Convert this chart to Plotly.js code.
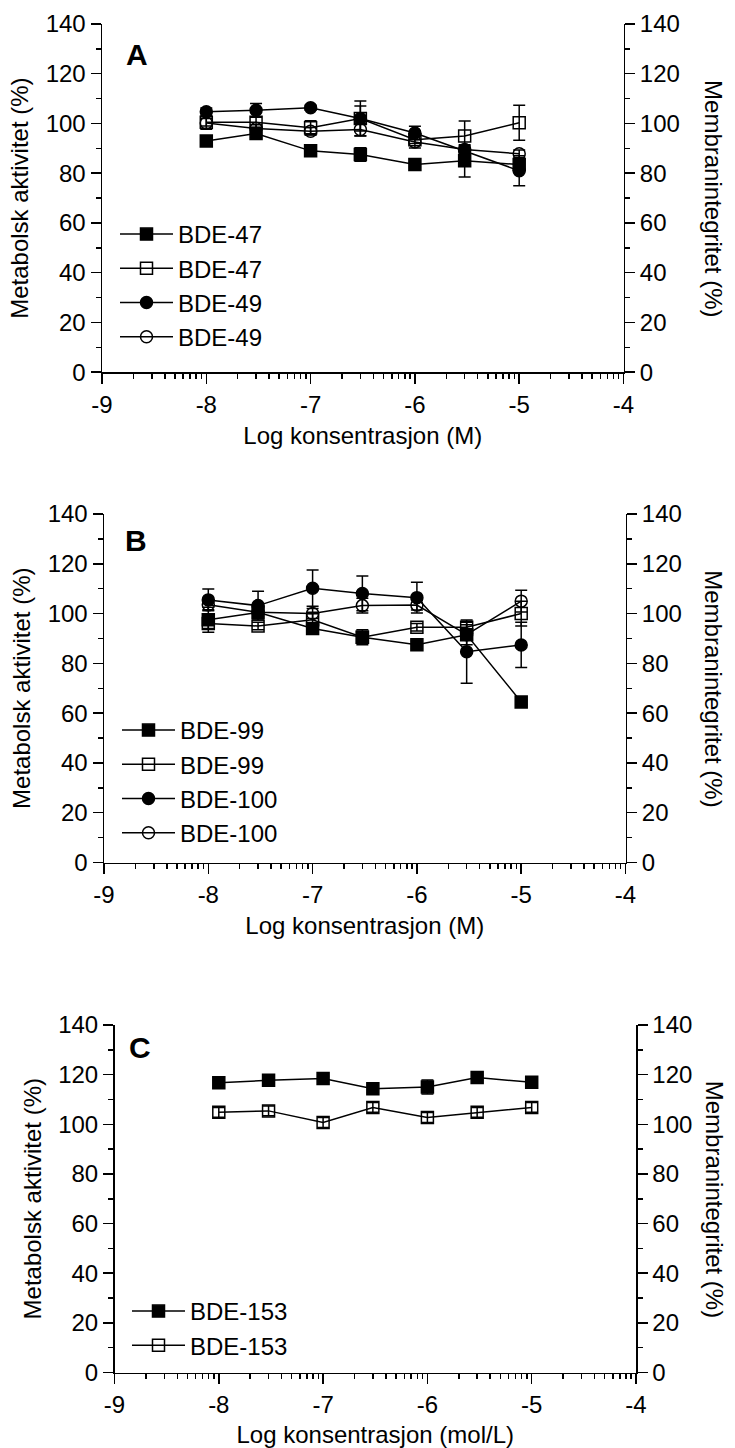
<!DOCTYPE html>
<html><head><meta charset="utf-8">
<script src="https://cdn.plot.ly/plotly-3.0.1.min.js"></script>
<style>html,body{margin:0;padding:0;background:#fff}#chart{width:735px;height:1448px}</style>
</head><body><div id="chart"></div>
<script>
// Concentrations (mol/L); x axis shows log10 of these
const concentrations = [1e-8, 3e-8, 1e-7, 3e-7, 1e-6, 3e-6, 1e-5];
const xTickVals = [-9, -8, -7, -6, -5, -4];
const xTickText = ['-9', '-8', '-7', '-6', '-5', '-4'];

// Panel A
const aLabels = ['BDE-47', 'BDE-47', 'BDE-49', 'BDE-49'];
const a47Met = [93, 96, 89, 87.5, 83.5, 85, 83.5];
const a47MetErr = [1, 1.5, 1, 2.7, 1, 6.5, 2];
const a47Mem = [100.5, 100.5, 98.3, 102, 93.5, 95, 100.3];
const a47MemErr = [1.5, 2, 2.8, 5, 1.5, 6, 7];
const a49Met = [104.7, 105.3, 106.3, 102, 96.2, 89, 81];
const a49MetErr = [1.5, 2.7, 1, 7, 2.7, 1.5, 6];
const a49Mem = [100.2, 98, 96.9, 97.6, 92.6, 89.5, 87.8];
const a49MemErr = [2.5, 1.5, 1.5, 2.5, 2.5, 1.5, 1.5];

// Panel B
const bLabels = ['BDE-99', 'BDE-99', 'BDE-100', 'BDE-100'];
const b99Met = [97.5, 100.5, 94, 90.5, 87.5, 91.5, 64.5];
const b99MetErr = [5, 1.5, 2, 3, 1.5, 4, 1];
const b99Mem = [96, 95, 97.5, 90.5, 94.5, 94.5, 100];
const b99MemErr = [2, 1.5, 3, 1.5, 1.5, 2, 5];
const b100Met = [105.5, 103.2, 110.2, 108.1, 106.4, 84.7, 87.4];
const b100MetErr = [4.4, 5.8, 7.3, 7, 6.2, 12.7, 9.1];
const b100Mem = [103.5, 100.5, 100, 103.2, 103.4, 91.5, 105];
const b100MemErr = [2, 1.5, 2, 3, 2, 1.5, 4.4];

// Panel C
const cLabels = ['BDE-153', 'BDE-153'];
const c153Met = [116.7, 117.7, 118.4, 114.3, 115, 118.8, 116.9];
const c153MetErr = [1, 1, 1, 1.5, 2.8, 1, 1];
const c153Mem = [104.8, 105.4, 100.7, 106.8, 102.7, 104.8, 106.8];
const c153MemErr = [2, 2, 2, 2, 2, 2, 2];

const leftTitle = 'Metabolsk aktivitet (%)';
const rightTitle = 'Membranintegritet (%)';
const xTitles = ['Log konsentrasjon (M)', 'Log konsentrasjon (M)', 'Log konsentrasjon (mol/L)'];
const panelLetters = ['A', 'B', 'C'];

// ---------- drawing ----------
const W = 735, H = 1448;
const FONT = 'Arial, "Liberation Sans", sans-serif';
const xLog = concentrations.map(c => Math.log10(c));
const minorX = [];
for (let d = -9; d < -4; d++) for (let k = 2; k <= 9; k++) minorX.push(d + Math.log10(k));

// pixel boxes of the three plot areas [left, right, top, bottom]
const boxes = [[102, 623.5, 24, 372.2], [104, 625.5, 514, 862.5], [114.5, 636, 1025, 1372.5]];
const legendPos = [[115, 212], [117, 708], [127, 1289]];
const letterPos = [[137, 55], [136, 541], [140, 1047]];

function px(x) { return x / W; }
function py(y) { return 1 - y / H; }

const symbols = ['square', 'square-open', 'circle', 'circle-open'];
const panels = [
  {labels: aLabels, ys: [a47Met, a47Mem, a49Met, a49Mem], errs: [a47MetErr, a47MemErr, a49MetErr, a49MemErr]},
  {labels: bLabels, ys: [b99Met, b99Mem, b100Met, b100Mem], errs: [b99MetErr, b99MemErr, b100MetErr, b100MemErr]},
  {labels: cLabels, ys: [c153Met, c153Mem], errs: [c153MetErr, c153MemErr]}
];

const traces = [];
const layout = {
  width: W, height: H,
  margin: {l: 0, r: 0, t: 0, b: 0},
  paper_bgcolor: '#fff', plot_bgcolor: 'rgba(0,0,0,0)',
  font: {family: FONT, color: '#000', size: 24},
  showlegend: true,
  annotations: []
};

panels.forEach((p, i) => {
  const xa = i === 0 ? 'x' : 'x' + (i + 1);
  const yl = i === 0 ? 'y' : 'y' + (2 * i + 1);
  const yr = 'y' + (2 * i + 2);
  const lg = i === 0 ? 'legend' : 'legend' + (i + 1);
  p.ys.forEach((yv, j) => {
    traces.push({
      type: 'scatter', mode: 'lines+markers', x: xLog, y: yv,
      xaxis: xa, yaxis: yl, name: p.labels[j], legend: lg,
      line: {color: '#000', width: 1.5},
      marker: {symbol: symbols[j], size: 12, color: '#000', line: {color: '#000', width: 1.5}},
      error_y: {type: 'data', array: p.errs[j], visible: true, color: '#000', thickness: 1.5, width: 6}
    });
  });
  // empty trace so that the right-hand axis is drawn
  traces.push({type: 'scatter', mode: 'lines', x: [null], y: [null], xaxis: xa, yaxis: yr,
    showlegend: false, hoverinfo: 'skip'});
  const b = boxes[i];
  const xd = [px(b[0]), px(b[1])];
  const yd = [py(b[3]), py(b[2])];
  const xKey = i === 0 ? 'xaxis' : 'xaxis' + (i + 1);
  const ylKey = i === 0 ? 'yaxis' : 'yaxis' + (2 * i + 1);
  const yrKey = 'yaxis' + (2 * i + 2);
  layout[xKey] = {
    domain: xd, anchor: yl, range: [-9, -4], tickmode: 'array', tickvals: xTickVals, ticktext: xTickText,
    ticks: 'outside', ticklen: 10, tickwidth: 1.5, tickcolor: '#000',
    showline: true, linewidth: 1.5, linecolor: '#000', showgrid: false, zeroline: false,
    tickfont: {size: 24, family: FONT}, fixedrange: true,
    minor: {tickmode: 'array', tickvals: minorX, ticks: 'outside', ticklen: 5, tickwidth: 1.5, tickcolor: '#000', showgrid: false},
    title: {text: xTitles[i], font: {size: 24, family: FONT}, standoff: 10}
  };
  const yCommon = {
    range: [0, 140], tickmode: 'linear', tick0: 0, dtick: 20,
    ticks: 'outside', ticklen: 10, tickwidth: 1.5, tickcolor: '#000',
    showline: true, linewidth: 1.5, linecolor: '#000', showgrid: false, zeroline: false,
    tickfont: {size: 24, family: FONT}, fixedrange: true,
    minor: {tickmode: 'linear', tick0: 0, dtick: 10, ticks: 'outside', ticklen: 5, tickwidth: 1.5, tickcolor: '#000', showgrid: false}
  };
  layout[ylKey] = Object.assign({}, yCommon, {domain: yd, anchor: xa, side: 'left',
    title: {text: leftTitle, font: {size: 24, family: FONT}, standoff: 10}});
  layout[yrKey] = Object.assign({}, yCommon, {domain: yd, anchor: xa, side: 'right', overlaying: yl});
  layout[lg] = {
    x: px(legendPos[i][0]), y: py(legendPos[i][1]), xanchor: 'left', yanchor: 'top',
    bgcolor: 'rgba(0,0,0,0)', borderwidth: 0, font: {size: 24, family: FONT},
    itemwidth: 53, tracegroupgap: 0
  };
  layout.annotations.push({
    xref: 'paper', yref: 'paper', x: px(714), y: (yd[0] + yd[1]) / 2,
    text: rightTitle, textangle: 90, showarrow: false, font: {size: 24, family: FONT},
    xanchor: 'center', yanchor: 'middle'
  });
  layout.annotations.push({
    xref: 'paper', yref: 'paper', x: px(letterPos[i][0]), y: py(letterPos[i][1]),
    text: '<b>' + panelLetters[i] + '</b>', showarrow: false, font: {size: 30, family: FONT},
    xanchor: 'center', yanchor: 'middle'
  });
});

Plotly.newPlot('chart', traces, layout, {staticPlot: true, displayModeBar: false});
</script>
</body></html>
